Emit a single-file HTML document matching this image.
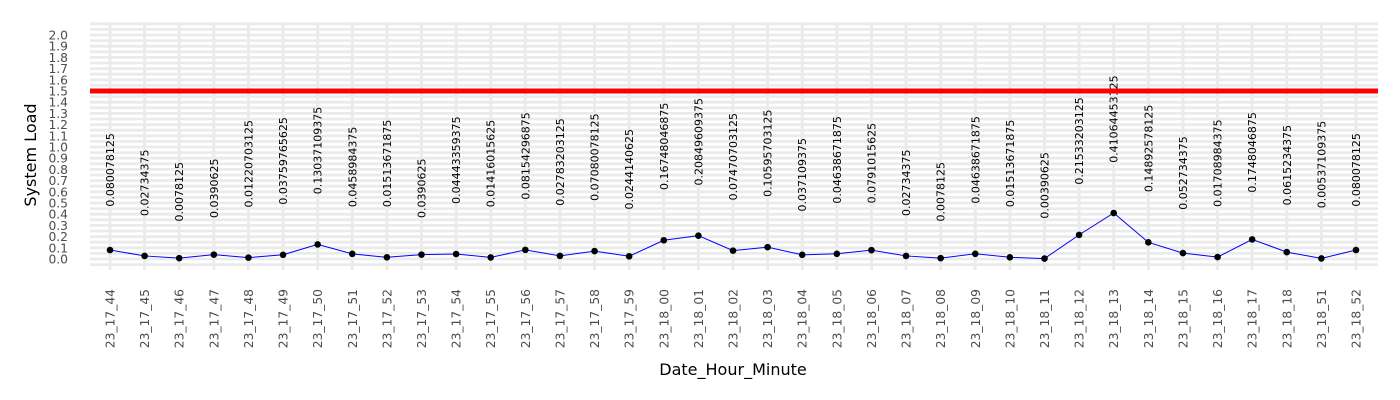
<!DOCTYPE html>
<html><head><meta charset="utf-8"><style>
html,body{margin:0;padding:0;background:#fff;width:1400px;height:400px;overflow:hidden}
svg text{font-family:"DejaVu Sans","Liberation Sans",sans-serif}
</style></head><body>
<svg id="chart" width="1400" height="400" xmlns="http://www.w3.org/2000/svg"></svg>
<script>
const categories=["23_17_44","23_17_45","23_17_46","23_17_47","23_17_48","23_17_49","23_17_50","23_17_51","23_17_52","23_17_53","23_17_54","23_17_55","23_17_56","23_17_57","23_17_58","23_17_59","23_18_00","23_18_01","23_18_02","23_18_03","23_18_04","23_18_05","23_18_06","23_18_07","23_18_08","23_18_09","23_18_10","23_18_11","23_18_12","23_18_13","23_18_14","23_18_15","23_18_16","23_18_17","23_18_18","23_18_51","23_18_52"];
const loadValues=[0.080078125,0.02734375,0.0078125,0.0390625,0.01220703125,0.03759765625,0.13037109375,0.0458984375,0.01513671875,0.0390625,0.04443359375,0.01416015625,0.08154296875,0.02783203125,0.07080078125,0.0244140625,0.16748046875,0.20849609375,0.07470703125,0.10595703125,0.037109375,0.04638671875,0.0791015625,0.02734375,0.0078125,0.04638671875,0.01513671875,0.00390625,0.21533203125,0.41064453125,0.14892578125,0.052734375,0.01708984375,0.1748046875,0.0615234375,0.00537109375,0.080078125];
const valueLabels=loadValues.map(v=>String(v));
const yTicks=[0,0.1,0.2,0.3,0.4,0.5,0.6,0.7,0.8,0.9,1.0,1.1,1.2,1.3,1.4,1.5,1.6,1.7,1.8,1.9,2.0];
const threshold=[1.5];

const NS="http://www.w3.org/2000/svg";
const svg=document.getElementById('chart');
const PL=90,PR=1378,PT=22,PB=270;
function y(v){return 259-v*112;}
function x(i){return 110+i*(1356-110)/(categories.length-1);}
function mk(tag,attrs,parent){const e=document.createElementNS(NS,tag);for(const k in attrs)e.setAttribute(k,attrs[k]);(parent||svg).appendChild(e);return e;}

const panel=mk('g',{});


mk('rect',{x:PL,y:PT,width:PR-PL,height:PB-PT,fill:'#ffffff'},panel);
for(let k=-2;k<=42;k++){const v=k*0.05;const yy=y(v);if(yy<PT||yy>PB)continue;
 const l=mk('line',{x1:PL,x2:PR,y1:yy,y2:yy,stroke:'#ebebeb','stroke-width':2.8},panel);
 
 }
categories.forEach((c,i)=>{const l=mk('line',{x1:x(i),x2:x(i),y1:PT,y2:PB,stroke:'#ebebeb','stroke-width':3},panel);
 
 });

const yAxis=mk('g',{});


yTicks.forEach(t=>{const tx=mk('text',{x:68,y:y(t)+4.5,'text-anchor':'end','font-size':12.3,fill:'#4d4d4d'},yAxis);tx.textContent=t.toFixed(1);
 
 });
const yt=mk('text',{x:36,y:155,'text-anchor':'middle','font-size':16,fill:'#000',transform:'rotate(-90 36 155)'});
yt.textContent='System Load';



const xAxis=mk('g',{});


categories.forEach((c,i)=>{const xx=x(i)+4.5,yy=289;const tx=mk('text',{x:xx,y:yy,'text-anchor':'end','font-size':12.3,fill:'#4d4d4d',transform:`rotate(-90 ${xx} ${yy})`},xAxis);tx.textContent=c;
 
 });
const xt=mk('text',{x:733,y:375,'text-anchor':'middle','font-size':16,fill:'#000'});
xt.textContent='Date_Hour_Minute';



const labels=mk('g',{});


loadValues.forEach((v,i)=>{const s=valueLabels[i];const xx=x(i)+4,yy=y(v)-6-3.4*s.length;
 const tx=mk('text',{x:xx,y:yy,'text-anchor':'start','font-size':11,fill:'#000',transform:`rotate(-90 ${xx} ${yy})`},labels);tx.textContent=s;
 
 });

const pts=loadValues.map((v,i)=>x(i)+','+y(v)).join(' ');
const line=mk('polyline',{points:pts,fill:'none',stroke:'#0000ff','stroke-width':1});


loadValues.forEach((v,i)=>{const c=mk('circle',{cx:x(i),cy:y(v),r:3.3,fill:'#000'});
 
 });

threshold.forEach(t=>{const r=mk('line',{x1:PL,x2:PR,y1:y(t),y2:y(t),stroke:'#ff0000','stroke-width':5});
 
 });
</script>
</body></html>
